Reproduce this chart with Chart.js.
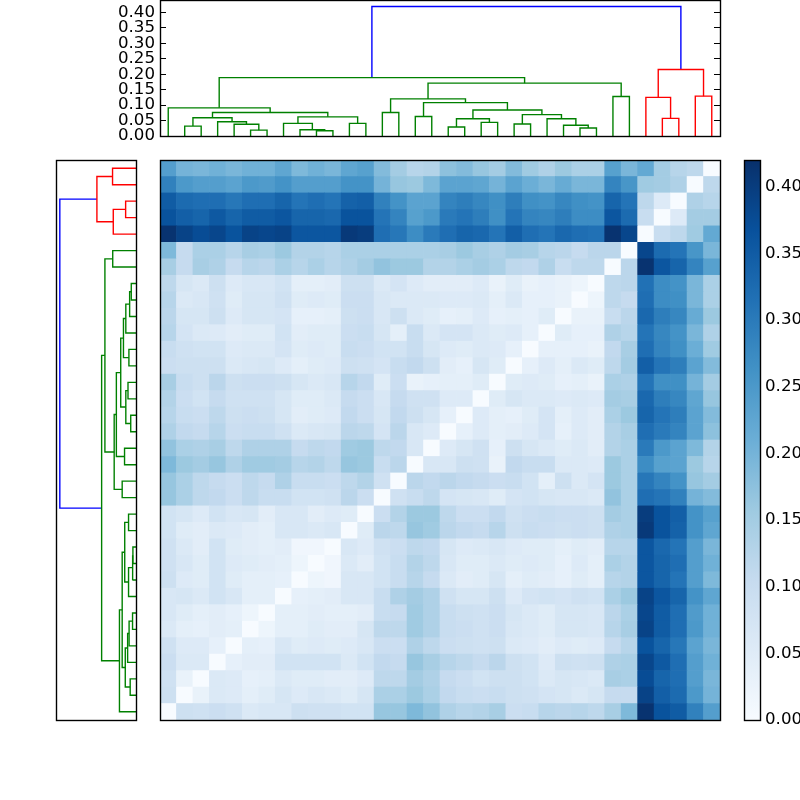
<!DOCTYPE html>
<html>
<head>
<meta charset="utf-8">
<title>Clustered distance matrix</title>
<script src="https://cdn.jsdelivr.net/npm/chart.js@4/dist/chart.umd.min.js"></script>
<style>
    body { margin: 0; background: #fff; }
    canvas { position: absolute; }
</style>
</head>
<body>
<canvas id="topDendro" width="625" height="150" style="left:100px;top:0"></canvas>
<canvas id="leftDendro" width="91" height="570" style="left:50px;top:155px"></canvas>
<canvas id="heatmap" width="570" height="570" style="left:155px;top:155px"></canvas>
<canvas id="colorbar" width="65" height="580" style="left:735px;top:155px"></canvas>
<script>
// Leaves in dendrogram order (left to right, bottom to top)
const leaves = [0, 1, 2, 3, 4, 5, 6, 7, 8, 9, 10, 11, 12, 13, 14, 15, 16,
    17, 18, 19, 20, 21, 22, 23, 24, 25, 26, 27, 28, 29, 30, 31, 32, 33];

// Lower triangle of the symmetric distance matrix: distances[k][i] with i < k
const distances = [
    [],
    [.09],
    [.085, .03],
    [.095, .06, .06],
    [.085, .055, .055, .035],
    [.06, .04, .035, .045, .04],
    [.065, .05, .04, .045, .035, .02],
    [.065, .07, .06, .08, .065, .04, .04],
    [.09, .055, .05, .08, .05, .04, .04, .035],
    [.085, .065, .05, .08, .055, .05, .045, .04, .02],
    [.085, .06, .045, .08, .05, .045, .04, .045, .015, .015],
    [.08, .05, .045, .06, .055, .045, .04, .065, .065, .06, .065],
    [.08, .07, .055, .08, .065, .07, .045, .065, .065, .045, .055, .05],
    [.165, .14, .115, .11, .095, .115, .10, .10, .08, .08, .085, .12, .095],
    [.165, .14, .115, .105, .095, .115, .105, .135, .10, .10, .095, .115, .13, .085],
    [.19, .16, .15, .165, .135, .155, .155, .15, .125, .13, .115, .165, .16, .10, .12],
    [.17, .14, .135, .145, .115, .135, .135, .135, .105, .115, .11, .155, .16, .115, .11, .065],
    [.135, .11, .105, .125, .095, .10, .10, .085, .06, .065, .07, .12, .115, .075, .12, .065, .055],
    [.125, .10, .095, .115, .09, .095, .09, .07, .045, .05, .055, .11, .095, .07, .11, .09, .07, .035],
    [.13, .095, .08, .105, .085, .085, .085, .07, .05, .05, .06, .105, .095, .065, .105, .085, .085, .055, .055],
    [.145, .10, .09, .12, .09, .095, .095, .09, .07, .06, .065, .125, .11, .05, .095, .03, .035, .04, .04, .05],
    [.095, .09, .09, .09, .06, .065, .07, .055, .04, .05, .055, .09, .085, .075, .10, .11, .09, .045, .035, .07, .05],
    [.10, .085, .08, .08, .055, .06, .06, .075, .05, .055, .05, .10, .095, .08, .08, .10, .07, .055, .05, .06, .055, .035],
    [.125, .075, .06, .055, .045, .05, .05, .08, .045, .05, .05, .095, .10, .07, .04, .10, .06, .075, .075, .06, .05, .055, .035],
    [.12, .07, .07, .09, .055, .07, .07, .075, .035, .035, .04, .09, .095, .065, .09, .06, .05, .035, .04, .055, .035, .04, .035, .05],
    [.125, .06, .065, .085, .05, .07, .07, .085, .05, .055, .05, .095, .095, .065, .06, .06, .06, .055, .055, .06, .04, .06, .035, .035, .03],
    [.115, .07, .06, .09, .055, .065, .065, .08, .04, .04, .045, .09, .09, .06, .075, .055, .045, .045, .045, .055, .03, .05, .03, .035, .03, .02],
    [.145, .105, .145, .135, .105, .125, .12, .14, .125, .14, .125, .135, .15, .17, .16, .16, .13, .13, .14, .15, .14, .115, .11, .135, .10, .115, .115],
    [.19, .105, .14, .14, .125, .145, .14, .16, .13, .13, .125, .14, .14, .14, .14, .14, .14, .145, .16, .145, .135, .15, .145, .125, .12, .105, .12, .12],
    [.415, .39, .375, .385, .365, .39, .385, .39, .36, .36, .36, .405, .40, .32, .305, .27, .30, .32, .335, .33, .31, .345, .32, .31, .33, .32, .315, .415, .385],
    [.365, .345, .335, .355, .335, .35, .35, .36, .335, .335, .33, .365, .365, .31, .285, .235, .25, .30, .31, .295, .265, .31, .285, .28, .295, .27, .27, .36, .325, .10],
    [.35, .325, .32, .32, .305, .32, .32, .335, .31, .32, .31, .34, .345, .29, .26, .23, .23, .285, .295, .28, .265, .295, .265, .26, .28, .265, .26, .335, .31, .115, .055],
    [.29, .25, .24, .24, .23, .25, .245, .26, .24, .24, .24, .26, .26, .20, .165, .16, .19, .23, .23, .225, .20, .23, .21, .195, .215, .195, .195, .285, .255, .155, .15, .135],
    [.24, .20, .195, .205, .195, .205, .205, .225, .19, .205, .195, .225, .235, .185, .15, .125, .13, .175, .185, .165, .15, .185, .155, .135, .16, .14, .14, .235, .195, .22, .15, .125, .115]
];

// Linkage: [child, child, height]. Children below 34 are leaves, the merge on
// position n of this list is node 34 + n.
const merges = [
    [9, 10, .017], [8, 34, .020], [7, 35, .041], [11, 12, .041], [36, 37, .062],
    [5, 6, .019], [4, 39, .038], [3, 40, .046], [1, 2, .032], [42, 41, .059],
    [43, 38, .076], [0, 44, .091], [13, 14, .076], [15, 16, .063], [17, 18, .029],
    [19, 20, .044], [48, 49, .056], [21, 22, .039], [25, 26, .026], [24, 52, .035],
    [23, 53, .056], [51, 54, .069], [50, 55, .084], [47, 56, .108], [46, 57, .120],
    [27, 28, .128], [58, 59, .171], [45, 60, .189], [30, 31, .057], [29, 62, .125],
    [32, 33, .129], [63, 64, .215], [61, 65, .419]
];
const firstRedLeaf = 29;
const blueAbove = 0.3;

const heightMax = 0.44;
const heightStep = 0.05;
const colorMax = 0.42;
const blues = [[247, 251, 255], [222, 235, 247], [198, 219, 239], [158, 202, 225],
    [107, 174, 214], [66, 146, 198], [33, 113, 181], [8, 81, 156], [8, 48, 107]];

const fontSpec = { family: "'DejaVu Sans', sans-serif", size: 16.67 };
Chart.defaults.color = '#000';
Chart.defaults.animation = false;
Chart.defaults.responsive = false;
Chart.defaults.plugins.legend.display = false;
Chart.defaults.plugins.tooltip.enabled = false;

function bluesColor(value) {
    const t = Math.min(Math.max(value / colorMax, 0), 1) * (blues.length - 1);
    const i = Math.min(Math.floor(t), blues.length - 2);
    const c = blues[i].map((v, n) => Math.round(v + (blues[i + 1][n] - v) * (t - i)));
    return `rgb(${c[0]}, ${c[1]}, ${c[2]})`;
}

function distance(row, col) {
    if (row === col) return 0;
    return row > col ? distances[row][col] : distances[col][row];
}

// Fixed axis width, and no extra room for the first and last tick label
function fixAxis(width) {
    return scale => {
        scale.width = width;
        scale.paddingTop = 0;
        scale.paddingBottom = 0;
    };
}

// Black box around each axes
const framePlugin = {
    id: 'frame',
    afterDraw(chart) {
        const { ctx, chartArea: a } = chart;
        ctx.save();
        ctx.strokeStyle = '#000';
        ctx.lineWidth = 1.39;
        ctx.strokeRect(a.left + 0.5, a.top + 0.5, a.right - a.left, a.bottom - a.top);
        ctx.restore();
    }
};

// One U shape for each merge, in dendrogram units (leaf i sits at 10 * i + 5)
function buildLinks() {
    const nodes = leaves.map(i => ({ pos: 10 * i + 5, height: 0, red: i >= firstRedLeaf }));
    return merges.map(([a, b, height]) => {
        const l = nodes[a], r = nodes[b];
        nodes.push({ pos: (l.pos + r.pos) / 2, height, red: l.red && r.red });
        return {
            pos: [l.pos, l.pos, r.pos, r.pos],
            height: [l.height, height, height, r.height],
            color: height > blueAbove ? '#0000ff' : (l.red && r.red ? '#ff0000' : '#008000')
        };
    });
}

function linkDatasets(horizontal) {
    return buildLinks().map(link => ({
        data: link.pos.map((p, i) => horizontal ? { x: link.height[i], y: p } : { x: p, y: link.height[i] }),
        showLine: true,
        borderColor: link.color,
        borderWidth: 1.39,
        pointRadius: 0,
        tension: 0
    }));
}

const insideTicks = (length) => ({
    drawOnChartArea: false,
    tickLength: -length,
    tickColor: '#000',
    tickWidth: 1
});

// Top dendrogram
new Chart(document.getElementById('topDendro'), {
    type: 'scatter',
    data: { datasets: linkDatasets(false) },
    options: {
        layout: { autoPadding: false, padding: { right: 5, bottom: 14 } },
        scales: {
            x: { display: false, type: 'linear', min: 0, max: 340 },
            y: {
                min: 0,
                max: heightMax,
                afterFit: fixAxis(60),
                border: { display: false },
                grid: insideTicks(6),
                ticks: {
                    stepSize: heightStep,
                    includeBounds: false,
                    autoSkip: false,
                    padding: 11,
                    font: fontSpec,
                    callback: v => v.toFixed(2)
                }
            },
            yRight: {
                position: 'right',
                min: 0,
                max: heightMax,
                afterFit: fixAxis(0),
                border: { display: false },
                grid: insideTicks(6),
                ticks: { stepSize: heightStep, includeBounds: false, autoSkip: false, display: false }
            }
        }
    },
    plugins: [framePlugin]
});

// Left dendrogram, same tree turned on its side
new Chart(document.getElementById('leftDendro'), {
    type: 'scatter',
    data: { datasets: linkDatasets(true) },
    options: {
        layout: { autoPadding: false, padding: { left: 6, right: 5, top: 5, bottom: 5 } },
        scales: {
            x: { display: false, type: 'linear', min: 0, max: heightMax, reverse: true },
            y: { display: false, min: 0, max: 340 }
        }
    },
    plugins: [framePlugin]
});

// Heatmap, one dataset of floating bars per row
new Chart(document.getElementById('heatmap'), {
    type: 'bar',
    data: {
        labels: leaves,
        datasets: leaves.map(row => ({
            data: leaves.map(col => ({ x: col, y: [row, row + 1], v: distance(row, col) })),
            backgroundColor: ctx => bluesColor(ctx.raw.v),
            borderWidth: 0,
            grouped: false,
            barPercentage: 1,
            categoryPercentage: 1
        }))
    },
    options: {
        layout: { padding: 5 },
        scales: {
            x: { display: false },
            y: { display: false, min: 0, max: leaves.length }
        }
    },
    plugins: [framePlugin]
});

// Colorbar, a single bar filled with the color ramp
new Chart(document.getElementById('colorbar'), {
    type: 'bar',
    data: {
        labels: ['distance'],
        datasets: [{
            data: [{ x: 'distance', y: [0, colorMax] }],
            backgroundColor: ctx => {
                const area = ctx.chart.chartArea;
                if (!area) return bluesColor(0);
                const gradient = ctx.chart.ctx.createLinearGradient(0, area.bottom, 0, area.top);
                blues.forEach((c, i) => {
                    gradient.addColorStop(i / (blues.length - 1), `rgb(${c[0]}, ${c[1]}, ${c[2]})`);
                });
                return gradient;
            },
            borderWidth: 0,
            barPercentage: 1,
            categoryPercentage: 1
        }]
    },
    options: {
        layout: { autoPadding: false, padding: { left: 9, top: 5, bottom: 15 } },
        scales: {
            x: { display: false },
            y: {
                position: 'right',
                min: 0,
                max: colorMax,
                afterFit: fixAxis(40),
                border: { display: false },
                grid: insideTicks(5),
                ticks: {
                    stepSize: heightStep,
                    includeBounds: false,
                    autoSkip: false,
                    padding: 10,
                    font: fontSpec,
                    callback: v => v.toFixed(2)
                }
            }
        }
    },
    plugins: [framePlugin]
});
</script>
</body>
</html>
